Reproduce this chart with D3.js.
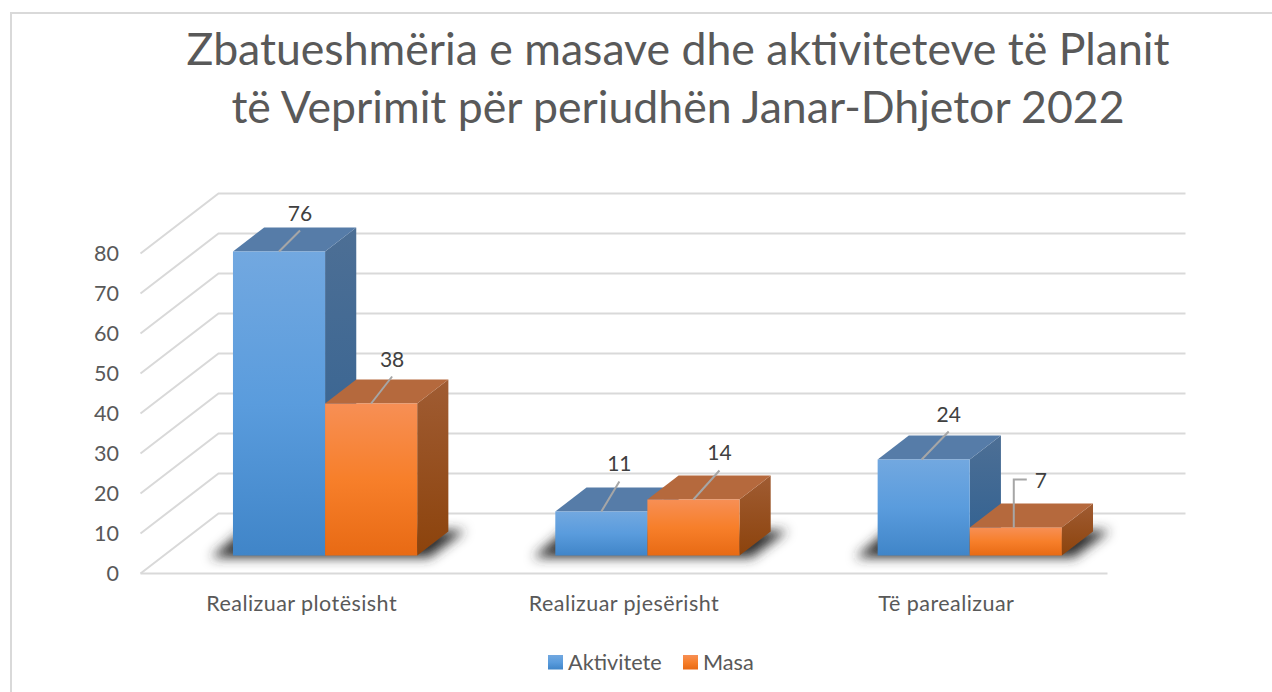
<!DOCTYPE html>
<html>
<head>
<meta charset="utf-8">
<title>Zbatueshmëria e masave dhe aktiviteteve</title>
<script src="https://d3js.org/d3.v7.min.js"></script>
<style>
    html, body { margin: 0; padding: 0; background: #fff; }
    svg { display: block; }
    text { font-family: Lato, "Open Sans", sans-serif; }
    .axis text { font-size: 21.5px; fill: #595959; }
    .axis path, .axis line { display: none; }
    .axis.cat text { letter-spacing: 0.45px; }
</style>
</head>
<body>
<script>
    // data
    const titleLines = ['Zbatueshmëria e masave dhe aktiviteteve të Planit', 'të Veprimit për periudhën Janar-Dhjetor 2022'];
    const categories = ['Realizuar plotësisht', 'Realizuar pjesërisht', 'Të parealizuar'];
    const seriesNames = ['Aktivitete', 'Masa'];
    const aktivitete = [76, 11, 24];
    const masa = [38, 14, 7];
    const yTicks = [0, 10, 20, 30, 40, 50, 60, 70, 80];

    const width = 1272;
    const height = 692;

    // fake 3D: depth 0 is the front of the floor, depth 1 the back wall
    const depthX = 78;
    const depthY = -60;
    const barDepthFront = 0.3;
    const barDepthBack = 0.7;

    const x0 = d3.scaleBand().domain(categories).range([140.5, 1107.5]);
    // gap width 150%: half a gap is 0.75 of a bar on each side
    const x1 = d3.scaleBand().domain(seriesNames).range([0, x0.bandwidth()]).paddingInner(0).paddingOuter(0.75);
    const y = d3.scaleLinear().domain([0, 80]).range([573.5, 253.5]);

    const project = (px, py, d) => [px + depthX * d, py + depthY * d];

    const colours = {
        Aktivitete: { front: ['#72a8e0', '#5a9cdd', '#4085c8'], top: '#567ca8', side: ['#4d6f95', '#2f6091'] },
        Masa: { front: ['#f78f55', '#f77f2a', '#e86a14'], top: '#b5693d', side: ['#a05c33', '#8c430c'] }
    };

    const svg = d3.select('body').append('svg')
        .attr('width', width)
        .attr('height', height);

    const defs = svg.append('defs');

    defs.append('filter').attr('id', 'floorShadow')
        .attr('x', '-20%').attr('y', '-60%').attr('width', '140%').attr('height', '220%')
        .append('feGaussianBlur').attr('stdDeviation', 6);

    seriesNames.forEach(function (name) {
        const front = defs.append('linearGradient').attr('id', 'front' + name)
            .attr('x1', 0).attr('y1', 0).attr('x2', 0).attr('y2', 1);
        colours[name].front.forEach(function (c, i) {
            front.append('stop').attr('offset', i / 2).attr('stop-color', c);
        });
        const side = defs.append('linearGradient').attr('id', 'side' + name)
            .attr('x1', 0).attr('y1', 0).attr('x2', 0).attr('y2', 1);
        colours[name].side.forEach(function (c, i) {
            side.append('stop').attr('offset', i).attr('stop-color', c);
        });
    });

    // chart frame, only top and left show in the picture
    svg.append('path')
        .attr('d', 'M11,692V13H1272')
        .attr('fill', 'none')
        .attr('stroke', '#d9d9d9')
        .attr('stroke-width', 2);

    // title
    svg.append('g').selectAll('text')
        .data(titleLines)
        .enter()
        .append('text')
        .attr('x', 678)
        .attr('y', function (d, i) { return 65 + i * 58; })
        .attr('text-anchor', 'middle')
        .style('font-size', '44.6px')
        .style('fill', '#595959')
        .text(function (d) { return d; });

    // wall and floor grid
    const grid = svg.append('g')
        .attr('fill', 'none')
        .attr('stroke', '#d9d9d9')
        .attr('stroke-width', 2);

    const gridPath = function (v) {
        const front = [x0.range()[0], y(v)];
        const back = project(front[0], front[1], 1);
        const end = project(x0.range()[1], front[1], 1);
        return d3.line()([front, back, end]);
    };

    grid.selectAll('path')
        .data(yTicks)
        .enter()
        .append('path')
        .attr('d', gridPath);

    grid.append('line')
        .attr('x1', x0.range()[0]).attr('x2', x0.range()[1])
        .attr('y1', y(0)).attr('y2', y(0));

    // y axis
    svg.append('g')
        .attr('class', 'axis')
        .attr('transform', 'translate(126,0)')
        .call(d3.axisLeft(y).tickValues(yTicks).tickSize(0).tickPadding(7));

    // category axis
    svg.append('g')
        .attr('class', 'axis cat')
        .attr('transform', 'translate(0,588)')
        .call(d3.axisBottom(x0).tickSize(0).tickPadding(8));

    // shadows on the floor under each pair of bars
    const shadowBase = y(0) + depthY * barDepthFront;
    svg.append('g').selectAll('path')
        .data(categories)
        .enter()
        .append('path')
        .attr('d', function (c) {
            const left = x0(c) + x1(seriesNames[0]) + depthX * barDepthFront;
            const right = x0(c) + x1(seriesNames[1]) + x1.bandwidth() + depthX * barDepthFront;
            return d3.line()([
                [left - 22, shadowBase + 2],
                [right + 12, shadowBase + 2],
                [right + 48, shadowBase - 25],
                [left + 10, shadowBase - 25]
            ]) + 'Z';
        })
        .attr('fill', '#2e2e2e')
        .attr('filter', 'url(#floorShadow)');

    // flatten the series into one row per bar
    const bars = [];
    categories.forEach(function (c, i) {
        bars.push({ category: c, series: 'Aktivitete', value: aktivitete[i] });
        bars.push({ category: c, series: 'Masa', value: masa[i] });
    });

    // corners of the bar: front face, then pushed back for top and side
    const barGeom = function (d) {
        const left = x0(d.category) + x1(d.series);
        const right = left + x1.bandwidth();
        return {
            fl: project(left, y(d.value), barDepthFront),
            fr: project(right, y(d.value), barDepthFront),
            br: project(right, y(0), barDepthFront),
            bl: project(left, y(0), barDepthFront),
            tl2: project(left, y(d.value), barDepthBack),
            tr2: project(right, y(d.value), barDepthBack),
            br2: project(right, y(0), barDepthBack)
        };
    };

    const barGroups = svg.append('g').selectAll('g')
        .data(bars)
        .enter()
        .append('g');

    barGroups.append('path')
        .attr('d', function (d) {
            const g = barGeom(d);
            return d3.line()([g.fr, g.tr2, g.br2, g.br]) + 'Z';
        })
        .attr('fill', function (d) { return 'url(#side' + d.series + ')'; });

    barGroups.append('path')
        .attr('d', function (d) {
            const g = barGeom(d);
            return d3.line()([g.fl, g.tl2, g.tr2, g.fr]) + 'Z';
        })
        .attr('fill', function (d) { return colours[d.series].top; });

    barGroups.append('path')
        .attr('d', function (d) {
            const g = barGeom(d);
            return d3.line()([g.fl, g.fr, g.br, g.bl]) + 'Z';
        })
        .attr('fill', function (d) { return 'url(#front' + d.series + ')'; });

    // data labels with leader lines, moved by hand in the original chart
    const leaderShift = [0, 0, 0, 0, -2, -2];
    const leaderEnds = [[21, -21], [21, -27], [18, -30], [26, -29], [27, -28], [0, -48]];
    const labelOffsets = [[21, -38], [21, -44], [18, -48], [26, -47], [27, -45], [27, -47]];

    const labels = svg.append('g');

    bars.forEach(function (d, i) {
        const g = barGeom(d);
        const start = [(g.fl[0] + g.fr[0]) / 2 + leaderShift[i], g.fl[1]];
        const pts = [start, [start[0] + leaderEnds[i][0], start[1] + leaderEnds[i][1]]];
        // the short bar's leader has an elbow
        if (d.value === 7) pts.push([pts[1][0] + 13, pts[1][1]]);

        labels.append('path')
            .attr('d', d3.line()(pts))
            .attr('fill', 'none')
            .attr('stroke', '#a6a6a6')
            .attr('stroke-width', 2);

        labels.append('text')
            .attr('x', start[0] + labelOffsets[i][0])
            .attr('y', start[1] + labelOffsets[i][1])
            .attr('text-anchor', 'middle')
            .attr('dy', '0.35em')
            .style('font-size', '21px')
            .style('fill', '#404040')
            .text(d.value);
    });

    // legend
    const legendX = d3.scaleOrdinal().domain(seriesNames).range([548, 683]);

    const legend = svg.append('g').selectAll('g')
        .data(seriesNames)
        .enter()
        .append('g')
        .attr('transform', function (d) { return 'translate(' + legendX(d) + ',655)'; });

    legend.append('rect')
        .attr('width', 15)
        .attr('height', 14.5)
        .attr('fill', function (d) { return 'url(#front' + d + ')'; });

    legend.append('text')
        .attr('x', 20)
        .attr('y', 7.5)
        .attr('dy', '0.35em')
        .style('font-size', '21.7px')
        .style('fill', '#595959')
        .text(function (d) { return d; });
</script>
</body>
</html>
